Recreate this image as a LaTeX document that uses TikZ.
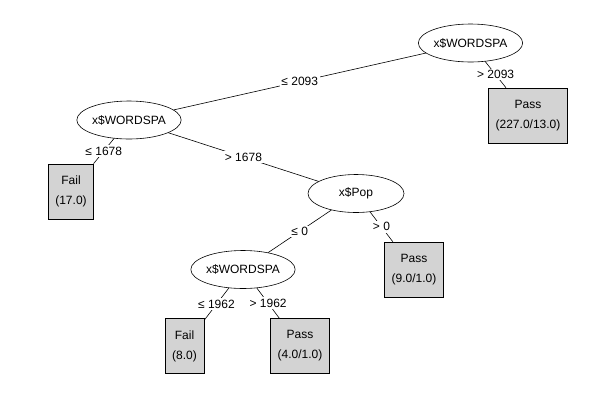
\documentclass[tikz,border=0pt]{standalone}
\usepackage{fontspec}
\setmainfont{Liberation Sans}
\usetikzlibrary{shapes.geometric}
\definecolor{leafgray}{RGB}{211,211,211}

\begin{document}
\begin{tikzpicture}[x=1pt,y=-1pt,
        line width=0.6pt,
        font=\fontsize{12}{20}\selectfont,
        split/.style={draw,ellipse,minimum width=96pt,minimum height=38pt,inner sep=0pt},
        leaf/.style={draw,fill=leafgray,minimum height=55pt,inner xsep=7pt,align=center},
        cut/.style={fill=white,inner sep=1.5pt,midway}]
    \useasboundingbox (0,0) rectangle (599,400);

    \node[split] (r) at (470.5,43) {x\$WORDSPA};
    \node[split] (w1) at (129,120) {x\$WORDSPA};
    \node[split] (p) at (356,193.5) {x\$Pop};
    \node[split] (w2) at (243,269.5) {x\$WORDSPA};

    \node[leaf] (pass1) at (528,115.5) {Pass\\(227.0/13.0)};
    \node[leaf] (fail1) at (71,191.5) {Fail\\(17.0)};
    \node[leaf] (pass2) at (414,269.5) {Pass\\(9.0/1.0)};
    \node[leaf] (fail2) at (184.5,346) {Fail\\(8.0)};
    \node[leaf] (pass3) at (300,346) {Pass\\(4.0/1.0)};

    \draw (r) -- node[cut] {≤ 2093} (w1);
    \draw (r) -- node[cut] {> 2093} (pass1);
    \draw (w1) -- node[cut] {≤ 1678} (fail1);
    \draw (w1) -- node[cut] {> 1678} (p);
    \draw (p) -- node[cut] {≤ 0} (w2);
    \draw (p) -- node[cut] {> 0} (pass2);
    \draw (w2) -- node[cut] {≤ 1962} (fail2);
    \draw (w2) -- node[cut] {> 1962} (pass3);
\end{tikzpicture}
\end{document}
